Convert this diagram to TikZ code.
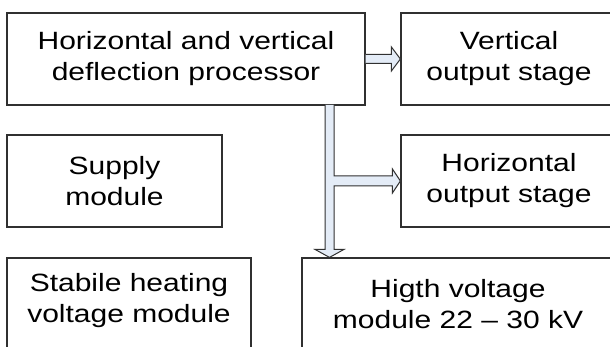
\documentclass[tikz,border=0pt]{standalone}
\usepackage{fontspec}
\setmainfont{Liberation Sans}[FakeStretch=1.2]
\usetikzlibrary{calc}
\definecolor{arrowfill}{HTML}{E4ECF7}
\definecolor{edgegray}{HTML}{303030}
\tikzset{
  module/.style={draw=edgegray, line width=0.6pt, align=center, inner sep=0pt,
    font=\fontsize{12.5}{15.5}\selectfont},
  blockarrow/.style={draw=edgegray, fill=arrowfill, line width=0.5pt, line join=miter},
}
\begin{document}
\begin{tikzpicture}[x=0.5pt,y=-0.5pt]
  \useasboundingbox (0,0) rectangle (610,347);
  \clip (0,0) rectangle (610,347);
  \draw
    (186,59) node[module, minimum width=179pt, minimum height=46pt] (proc)
      {Horizontal and vertical\\deflection processor}
    (509,59) node[module, minimum width=108pt, minimum height=46pt] (vout)
      {Vertical\\output stage}
    (114.5,181) node[module, minimum width=107.5pt, minimum height=46pt] (supply)
      {Supply\\module}
    (509,181) node[module, minimum width=108pt, minimum height=46pt] (hout)
      {Horizontal\\output stage}
    (129,304) node[module, minimum width=122pt, minimum height=46pt, text depth=6pt] (heat)
      {Stabile heating\\voltage module}
    (458,304) node[module, minimum width=156pt, minimum height=46pt] (hv)
      {Higth voltage\\module 22 -- 30 kV};
  \coordinate (tap) at (329.5,105);
  % processor -> vertical output stage
  \draw[blockarrow] ($(proc.east)+(0,-4.5)$) -- ($(vout.west)+(-9,-4.5)$)
    -- ($(vout.west)+(-9,-12)$) -- (vout.west) -- ($(vout.west)+(-9,12)$)
    -- ($(vout.west)+(-9,4.5)$) -- ($(proc.east)+(0,4.5)$);
  % processor -> horizontal output stage and high voltage module
  \draw[blockarrow] ($(tap)+(4.5,0)$)
    -- ($(tap |- hout.west)+(4.5,-5)$) -- ($(hout.west)+(-8,-5)$)
    -- ($(hout.west)+(-8,-12)$) -- (hout.west) -- ($(hout.west)+(-8,12)$)
    -- ($(hout.west)+(-8,5)$) -- ($(tap |- hout.west)+(4.5,5)$)
    -- ($(tap |- hv.north)+(4.5,-8)$) -- ($(tap |- hv.north)+(14.5,-8)$)
    -- (tap |- hv.north) -- ($(tap |- hv.north)+(-14.5,-8)$)
    -- ($(tap |- hv.north)+(-4.5,-8)$) -- ($(tap)+(-4.5,0)$);
\end{tikzpicture}
\end{document}
